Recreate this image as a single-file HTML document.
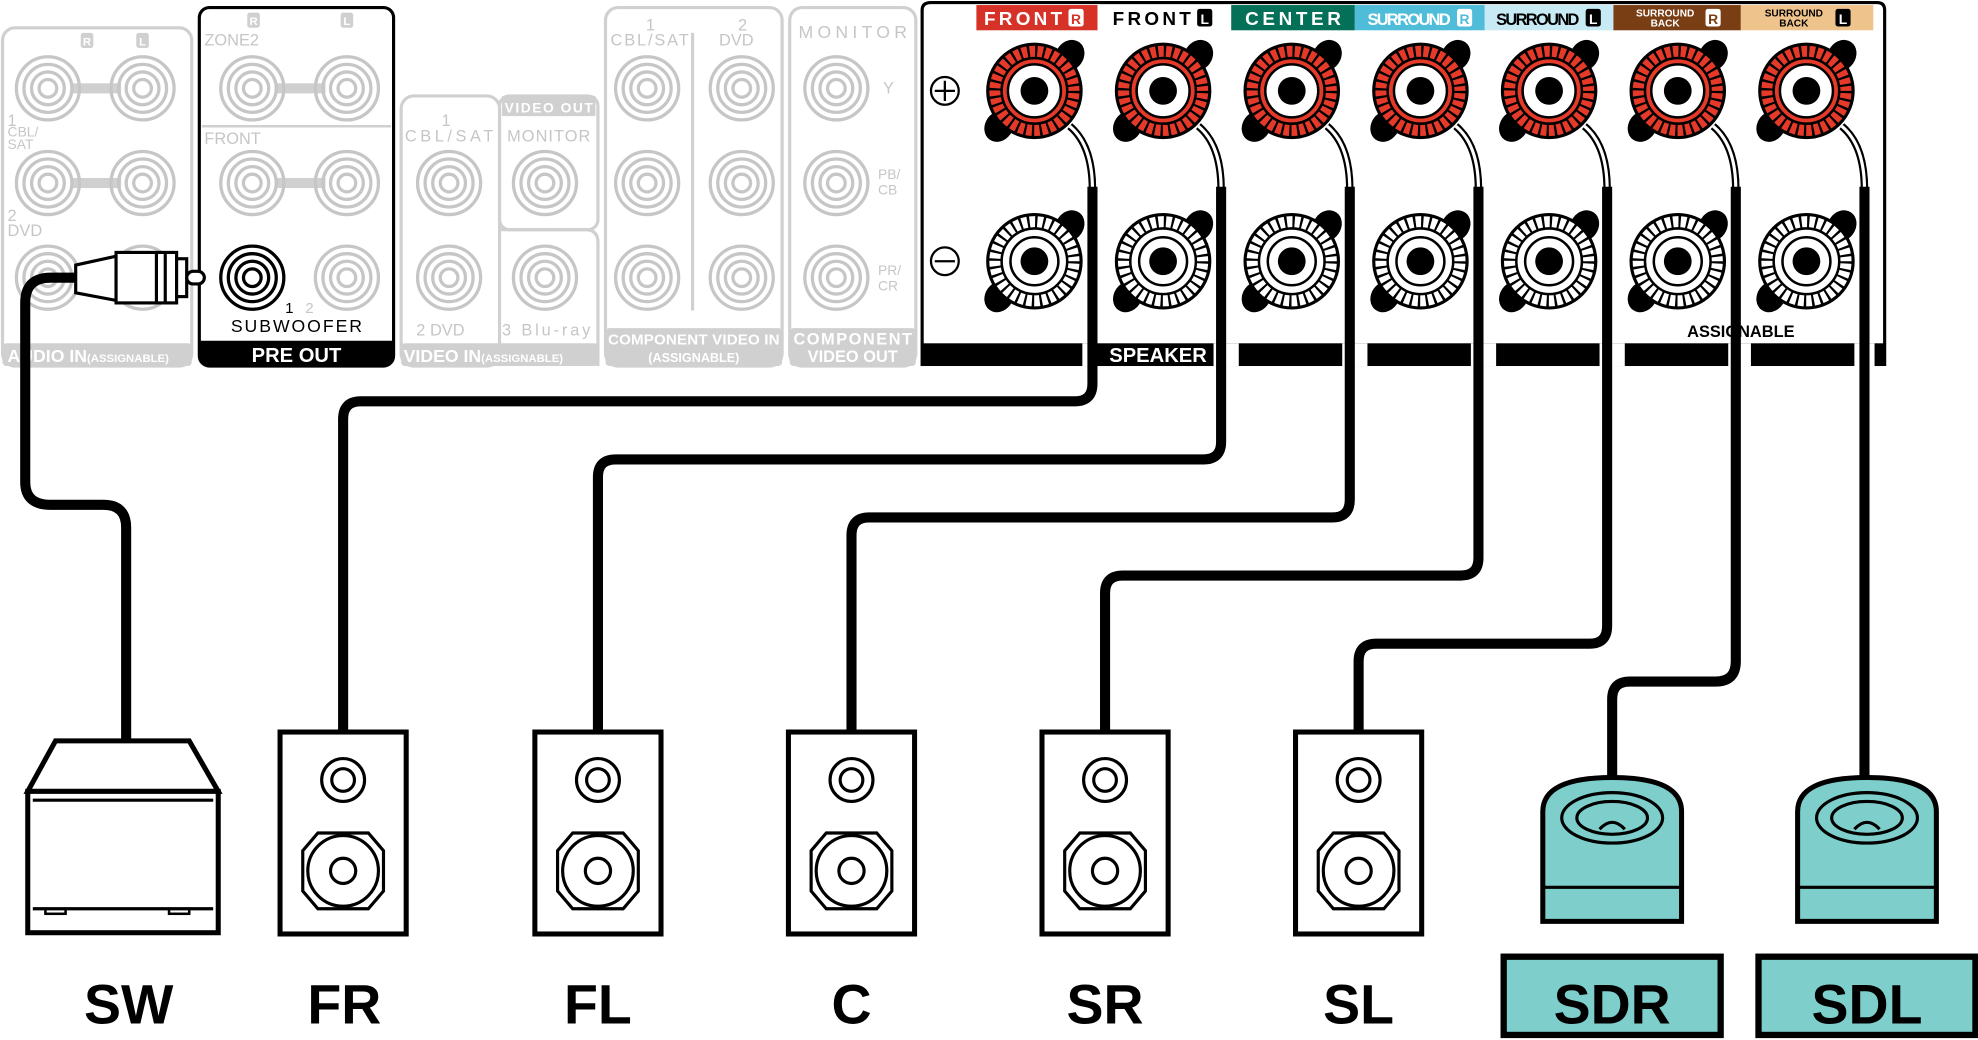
<!DOCTYPE html>
<html><head><meta charset="utf-8"><style>html,body{margin:0;padding:0;background:#fff}svg{display:block}</style></head>
<body>
<svg width="1978" height="1040" viewBox="0 0 1568 824" preserveAspectRatio="none" xmlns="http://www.w3.org/2000/svg" font-family="'Liberation Sans',sans-serif">
<defs>
<g id="gj" fill="none" stroke="#c6c6c6" stroke-width="2.6"><circle r="25"/><circle r="19"/><circle r="13"/><circle r="7"/></g>
<g id="bj" fill="none" stroke="#000" stroke-width="2.6"><circle r="25"/><circle r="19"/><circle r="13"/><circle r="7"/></g>
<g id="pos">
<ellipse cx="28" cy="-28" rx="11" ry="13" transform="rotate(35 28 -28)" fill="#000"/>
<ellipse cx="-28" cy="28" rx="11" ry="13" transform="rotate(35 -28 28)" fill="#000"/>
<circle r="37" fill="#e53a2a" stroke="#000" stroke-width="2.5"/>
<circle r="31" fill="none" stroke="#000" stroke-width="11" stroke-dasharray="1.8 4.3"/>
<circle r="26" fill="#e53a2a" stroke="#000" stroke-width="2"/>
<circle r="21" fill="#fff" stroke="#000" stroke-width="2"/>
<circle r="11" fill="#000"/>
</g>
<g id="neg">
<ellipse cx="28" cy="-28" rx="11" ry="13" transform="rotate(35 28 -28)" fill="#000"/>
<ellipse cx="-28" cy="28" rx="11" ry="13" transform="rotate(35 -28 28)" fill="#000"/>
<circle r="37" fill="#fff" stroke="#000" stroke-width="2.5"/>
<circle r="31" fill="none" stroke="#000" stroke-width="11" stroke-dasharray="1.8 4.3"/>
<circle r="26" fill="#fff" stroke="#000" stroke-width="2"/>
<circle r="19" fill="#fff" stroke="#000" stroke-width="2"/>
<circle r="11" fill="#000"/>
</g>
<g id="spk">
<rect x="-50" y="0" width="100" height="160" fill="#fff" stroke="#000" stroke-width="4"/>
<circle cx="0" cy="38" r="17" fill="none" stroke="#000" stroke-width="2.5"/>
<circle cx="0" cy="38" r="9" fill="none" stroke="#000" stroke-width="2.5"/>
<path d="M-20,80 H20 L32,94 V126 L20,140 H-20 L-32,126 V94 Z" fill="none" stroke="#000" stroke-width="2.5"/>
<circle cx="0" cy="110" r="28" fill="none" stroke="#000" stroke-width="2.5"/>
<circle cx="0" cy="110" r="10" fill="none" stroke="#000" stroke-width="2.5"/>
</g>
<g id="dome">
<path d="M-55,-5 Q-55,-32 0,-32 Q55,-32 55,-5 V82 H-55 Z" fill="#7ecfcc" stroke="#000" stroke-width="4"/>
<line x1="-55" y1="55" x2="55" y2="55" stroke="#000" stroke-width="2.5"/>
<ellipse cx="0" cy="0" rx="40" ry="20" fill="none" stroke="#000" stroke-width="2.5"/>
<ellipse cx="0" cy="0" rx="28" ry="13" fill="none" stroke="#000" stroke-width="2.5"/>
<path d="M-10,9 Q0,-2 10,9" fill="none" stroke="#000" stroke-width="2.5"/>
</g>
</defs>

<g fill="none" stroke="#d0d0d0" stroke-width="2.5">
<rect x="2" y="22" width="150" height="268" rx="10"/>
<rect x="318" y="76" width="78" height="214" rx="10"/>
<rect x="396" y="76" width="78" height="106" rx="8"/>
<path d="M396,182 H464 Q474,182 474,192 V290"/>
<rect x="480" y="6" width="140" height="284" rx="10"/>
<rect x="626" y="6" width="100" height="284" rx="10"/>
</g>
<line x1="549" y1="26" x2="549" y2="246" stroke="#d0d0d0" stroke-width="2.5"/>
<line x1="160" y1="100" x2="310" y2="100" stroke="#d0d0d0" stroke-width="2"/>
<g fill="#d0d0d0"><rect x="2" y="272" width="150" height="18" rx="3"/><rect x="318" y="272" width="156" height="18" rx="3"/><rect x="480" y="260" width="140" height="30" rx="3"/><rect x="626" y="260" width="100" height="30" rx="3"/><rect x="398" y="76" width="74" height="16"/>
<rect x="64" y="26" width="10" height="12" rx="2"/><rect x="108" y="26" width="10" height="12" rx="2"/>
<rect x="196" y="10" width="10" height="12" rx="2"/><rect x="270" y="10" width="10" height="12" rx="2"/>
<rect x="56" y="66" width="40" height="8"/><rect x="56" y="141" width="40" height="8"/><rect x="218" y="66" width="40" height="8"/><rect x="218" y="141" width="40" height="8"/></g>
<g fill="#fff" font-size="9" font-weight="bold" text-anchor="middle"><text x="69" y="36">R</text><text x="113" y="36">L</text><text x="201" y="20">R</text><text x="275" y="20">L</text></g>
<use href="#gj" x="38" y="70"/><use href="#gj" x="113" y="70"/><use href="#gj" x="38" y="145"/><use href="#gj" x="113" y="145"/><use href="#gj" x="38" y="220"/><use href="#gj" x="113" y="220"/>
<use href="#gj" x="200" y="70"/><use href="#gj" x="275" y="70"/><use href="#gj" x="200" y="145"/><use href="#gj" x="275" y="145"/><use href="#gj" x="275" y="220"/>
<use href="#bj" x="200" y="220"/>
<use href="#gj" x="356" y="145"/><use href="#gj" x="356" y="220"/><use href="#gj" x="432" y="145"/><use href="#gj" x="432" y="220"/>
<use href="#gj" x="513" y="70"/><use href="#gj" x="588" y="70"/><use href="#gj" x="513" y="145"/><use href="#gj" x="588" y="145"/><use href="#gj" x="513" y="220"/><use href="#gj" x="588" y="220"/>
<use href="#gj" x="663" y="70"/><use href="#gj" x="663" y="145"/><use href="#gj" x="663" y="220"/>
<g fill="#c6c6c6" font-size="13">
<text x="6" y="100">1</text><text x="6" y="108" font-size="11">CBL/</text><text x="6" y="118" font-size="11">SAT</text>
<text x="6" y="175">2</text><text x="6" y="187">DVD</text>
<text x="162" y="36">ZONE2</text><text x="162" y="114">FRONT</text>
<text x="350" y="100">1</text><text x="321" y="112" textLength="70">CBL/SAT</text><text x="402" y="112" textLength="66">MONITOR</text>
<text x="330" y="266">2 DVD</text><text x="398" y="266" textLength="70">3 Blu-ray</text>
<text x="512" y="24">1</text><text x="484" y="36" textLength="62">CBL/SAT</text><text x="585" y="24">2</text><text x="570" y="36">DVD</text>
<text x="633" y="30" font-size="14" textLength="86">MONITOR</text><text x="700" y="74">Y</text><text x="696" y="142" font-size="11">PB/</text><text x="696" y="154" font-size="11">CB</text><text x="696" y="218" font-size="11">PR/</text><text x="696" y="230" font-size="11">CR</text>
</g>
<g fill="#fff" font-weight="bold">
<text x="6" y="287" font-size="14">AUDIO IN<tspan font-size="9">(ASSIGNABLE)</tspan></text>
<text x="320" y="287" font-size="14">VIDEO IN<tspan font-size="9">(ASSIGNABLE)</tspan></text>
<text x="550" y="273" font-size="12" text-anchor="middle" textLength="136">COMPONENT VIDEO IN</text><text x="550" y="287" font-size="10" text-anchor="middle">(ASSIGNABLE)</text>
<text x="676" y="273" font-size="13" text-anchor="middle" textLength="94">COMPONENT</text><text x="676" y="287" font-size="13" text-anchor="middle">VIDEO OUT</text>
<text x="400" y="89" font-size="11" textLength="70">VIDEO OUT</text>
</g>
<rect x="158" y="6" width="154" height="284" rx="8" fill="none" stroke="#000" stroke-width="2.5"/>
<path d="M158,270 H312 V282 Q312,290 304,290 H166 Q158,290 158,282 Z" fill="#000"/>
<text x="235" y="287" fill="#fff" font-size="16" font-weight="bold" text-anchor="middle">PRE OUT</text>
<text x="235" y="263" font-size="14" text-anchor="middle" textLength="104">SUBWOOFER</text>
<text x="226" y="248" font-size="12">1</text><text x="242" y="248" font-size="12" fill="#c6c6c6">2</text>

<path d="M731,290 V8 Q731,2 738,2 H1488 Q1494,2 1494,8 V290" fill="#fff" stroke="#000" stroke-width="2.5"/>
<rect x="731" y="272" width="763" height="18" fill="#000"/>
<g fill="#fff"><rect x="858" y="272" width="6" height="18"/><rect x="962" y="272" width="20" height="18"/><rect x="1064" y="272" width="20" height="18"/><rect x="1166" y="272" width="20" height="18"/><rect x="1268" y="272" width="20" height="18"/><rect x="1370" y="272" width="18" height="18"/><rect x="1470" y="272" width="16" height="18"/></g>
<text x="918" y="287" fill="#fff" font-size="16" font-weight="bold" text-anchor="middle">SPEAKER</text>
<text x="1380" y="267" font-size="13" font-weight="bold" text-anchor="middle">ASSIGNABLE</text>
<rect x="774" y="4" width="96" height="20" fill="#d63228"/>
<rect x="976" y="4" width="98" height="20" fill="#047058"/>
<rect x="1074" y="4" width="103" height="20" fill="#4fbcd9"/>
<rect x="1177" y="4" width="102" height="20" fill="#c8eaf4"/>
<rect x="1279" y="4" width="101" height="20" fill="#7a3e15"/>
<rect x="1380" y="4" width="105" height="20" fill="#efc38c"/>
<g font-weight="bold" font-size="15">
<text x="780" y="20" fill="#fff" textLength="62">FRONT</text><rect x="847" y="7" width="12" height="14" fill="#fff" rx="2"/><text x="853" y="19" font-size="11" fill="#d63228" text-anchor="middle">R</text>
<text x="882" y="20" textLength="62">FRONT</text><rect x="949" y="7" width="12" height="14" rx="2"/><text x="955" y="19" font-size="11" fill="#fff" text-anchor="middle">L</text>
<text x="1025" y="20" fill="#fff" text-anchor="middle" textLength="76">CENTER</text>
<text x="1084" y="20" fill="#fff" font-size="13" textLength="66">SURROUND</text><rect x="1155" y="7" width="12" height="14" fill="#fff" rx="2"/><text x="1161" y="19" font-size="11" fill="#4fbcd9" text-anchor="middle">R</text>
<text x="1186" y="20" font-size="13" textLength="66">SURROUND</text><rect x="1257" y="7" width="12" height="14" rx="2"/><text x="1263" y="19" font-size="11" fill="#fff" text-anchor="middle">L</text>
<text x="1320" y="13" fill="#fff" font-size="8" text-anchor="middle">SURROUND</text><text x="1320" y="21" fill="#fff" font-size="8" text-anchor="middle">BACK</text><rect x="1352" y="7" width="12" height="14" fill="#fff" rx="2"/><text x="1358" y="19" font-size="11" fill="#7a3e15" text-anchor="middle">R</text>
<text x="1422" y="13" font-size="8" text-anchor="middle">SURROUND</text><text x="1422" y="21" font-size="8" text-anchor="middle">BACK</text><rect x="1455" y="7" width="12" height="14" rx="2"/><text x="1461" y="19" font-size="11" fill="#fff" text-anchor="middle">L</text>
</g>
<g fill="none" stroke="#000" stroke-width="1.8"><circle cx="749" cy="72" r="11"/><path d="M741,72 H757 M749,64 V80"/><circle cx="749" cy="207" r="11"/><path d="M741,207 H757"/></g>
<use href="#neg" x="820" y="207"/><use href="#neg" x="922" y="207"/><use href="#neg" x="1024" y="207"/><use href="#neg" x="1126" y="207"/><use href="#neg" x="1228" y="207"/><use href="#neg" x="1330" y="207"/><use href="#neg" x="1432" y="207"/>
<g fill="none">
<g stroke="#000" stroke-width="6"><path d="M848,100 Q866,115 866,150"/><path d="M950,100 Q968,115 968,150"/><path d="M1052,100 Q1070,115 1070,150"/><path d="M1154,100 Q1172,115 1172,150"/><path d="M1256,100 Q1274,115 1274,150"/><path d="M1358,100 Q1376,115 1376,150"/><path d="M1460,100 Q1478,115 1478,150"/></g>
<g stroke="#fff" stroke-width="2.5"><path d="M848,100 Q866,115 866,150"/><path d="M950,100 Q968,115 968,150"/><path d="M1052,100 Q1070,115 1070,150"/><path d="M1154,100 Q1172,115 1172,150"/><path d="M1256,100 Q1274,115 1274,150"/><path d="M1358,100 Q1376,115 1376,150"/><path d="M1460,100 Q1478,115 1478,150"/></g>
</g>
<use href="#pos" x="820" y="72"/><use href="#pos" x="922" y="72"/><use href="#pos" x="1024" y="72"/><use href="#pos" x="1126" y="72"/><use href="#pos" x="1228" y="72"/><use href="#pos" x="1330" y="72"/><use href="#pos" x="1432" y="72"/>

<g fill="none" stroke="#000" stroke-width="8" stroke-linejoin="round">
<path d="M866,148 V304 Q866,318 852,318 H286 Q272,318 272,332 V582"/>
<path d="M968,148 V350 Q968,364 954,364 H488 Q474,364 474,378 V582"/>
<path d="M1070,148 V396 Q1070,410 1056,410 H689 Q675,410 675,424 V582"/>
<path d="M1172,148 V442 Q1172,456 1158,456 H890 Q876,456 876,470 V582"/>
<path d="M1274,148 V496 Q1274,510 1260,510 H1091 Q1077,510 1077,524 V582"/>
<path d="M1376,148 V524 Q1376,540 1360,540 H1292 Q1278,540 1278,554 V620"/>
<path d="M1478,148 V620"/>
<path d="M70,220 H40 Q20,220 20,240 V382 Q20,400 40,400 H82 Q100,400 100,418 V588"/>
</g>
<g stroke="#000" stroke-width="2.5" fill="#fff">
<path d="M60,210 L92,203 V238 L60,232 Z"/>
<rect x="92" y="200" width="48" height="40"/>
<path d="M131,200 V240 M124,200 V240"/>
<rect x="140" y="205" width="8" height="30"/>
<rect x="148" y="215" width="14" height="10" rx="5"/>
</g>

<path d="M44,587 H150 L173,627 H22 Z" fill="#fff" stroke="#000" stroke-width="4"/>
<rect x="22" y="627" width="151" height="112" fill="#fff" stroke="#000" stroke-width="4"/>
<path d="M26,634 H169 M26,720 H169" stroke="#000" stroke-width="2.5"/>
<g fill="none" stroke="#000" stroke-width="2"><rect x="36" y="720" width="16" height="4"/><rect x="134" y="720" width="16" height="4"/></g>
<use href="#spk" x="272" y="580"/><use href="#spk" x="474" y="580"/><use href="#spk" x="675" y="580"/><use href="#spk" x="876" y="580"/><use href="#spk" x="1077" y="580"/>
<use href="#dome" x="1278" y="648"/><use href="#dome" x="1480" y="648"/>
<rect x="1192" y="758" width="172" height="62" fill="#7ecfcc" stroke="#000" stroke-width="5"/>
<rect x="1394" y="758" width="172" height="62" fill="#7ecfcc" stroke="#000" stroke-width="5"/>
<g font-size="44" font-weight="bold" text-anchor="middle">
<text x="102" y="811">SW</text><text x="273" y="811">FR</text><text x="474" y="811">FL</text><text x="675" y="811">C</text><text x="876" y="811">SR</text><text x="1077" y="811">SL</text><text x="1278" y="811">SDR</text><text x="1480" y="811">SDL</text>
</g>
</svg>
</body></html>
